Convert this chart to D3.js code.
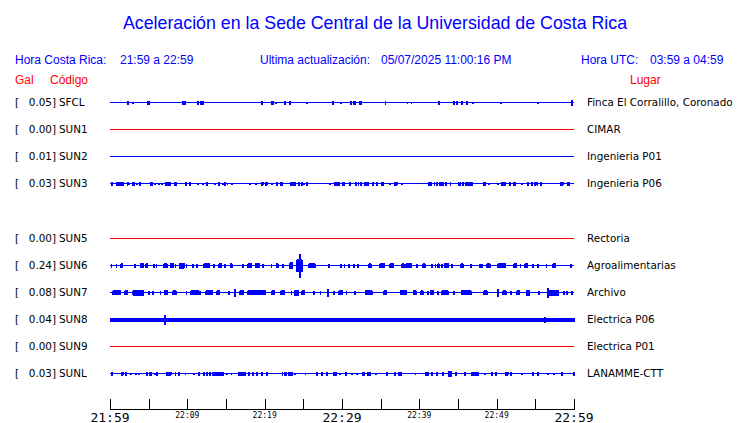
<!DOCTYPE html>
<html><head><meta charset="utf-8">
<script src="https://cdn.jsdelivr.net/npm/d3@7"></script>
<style>body{margin:0;background:#fff}svg{display:block}</style>
</head><body>
<svg id="c" width="740" height="423"></svg>
<script>
// ---------- data ----------
const titleText = "Aceleración en la Sede Central de la Universidad de Costa Rica";
const localRange = "21:59 a 22:59";
const utcRange = "03:59 a 04:59";
const updated = "05/07/2025 11:00:16 PM";

const stations = ["SFCL","SUN1","SUN2","SUN3","SUN5","SUN6","SUN7","SUN8","SUN9","SUNL"];
const rowSlots = [0,1,2,3,5,6,7,8,9,10];
const peaks = [0.05,0.00,0.01,0.03,0.00,0.24,0.08,0.04,0.00,0.03];
const places = ["Finca El Corralillo, Coronado","CIMAR","Ingenieria P01","Ingenieria P06",
  "Rectoria","Agroalimentarias","Archivo","Electrica P06","Electrica P01","LANAMME-CTT"];

const tickMinutes = [0,5,10,15,20,25,30,35,40,45,50,55,60];
const tickLabels = ["21:59","","22:09","","22:19","","22:29","","22:39","","22:49","","22:59"];

// bursts: [minute after 21:59, amplitude (relative), duration (min)]
const burstsSFCL = [[2.24,1.5,0.1],[2.88,1,0.1],[4.87,1.5,0.3],[9.35,1.5,0.1],[9.61,1.5,0.1],[11.29,1.5,0.1],
 [11.68,1.5,0.1],[11.93,1.5,0.1],[19.57,1.5,0.1],[20.91,1.5,0.25],[21.38,1,0.1],[22.5,1.5,0.25],[23.19,1.5,0.1],
 [25.39,0.8,0.1],[28.75,1.5,0.1],[29.78,1,0.1],[31.13,1.5,0.1],[31.51,1.5,0.25],[32.2,1.5,0.3],[35.57,1.5,0.1],
 [38.41,1,0.1],[38.93,1,0.1],[42.46,1.5,0.1],[44.45,1.5,0.1],[44.78,1.5,0.1],[45.39,1.5,0.25],[46.04,1.5,0.25],
 [46.85,0.8,0.1],[50.47,0.8,0.1],[55.26,1,0.1],[59.65,3,0.1]];
const burstsSUN1 = [];
const burstsSUN2 = [];
const burstsSUN3 = [[0.22,1.5,0.1],[0.9,1.5,0.35],[1.34,1.5,0.1],[1.59,1.5,0.2],[2.2,1.5,0.2],[2.46,1,0.1],
 [2.93,1.5,0.3],[3.45,1,0.1],[3.79,1.5,0.1],[5.26,1.5,0.25],[5.73,1,0.1],[6.25,1,0.1],[6.68,1,0.1],[7.24,1.5,0.45],
 [7.72,1.5,0.1],[8.28,1.5,0.3],[9.74,1.5,0.1],[10.26,1.5,0.1],[11.34,1,0.1],[11.98,1,0.1],[12.54,1.5,0.1],
 [13.49,1,0.1],[14.01,1.5,0.1],[14.53,1,0.1],[14.78,1.5,0.1],[15.13,1,0.1],[15.69,1,0.1],[18.02,1,0.1],
 [18.84,1,0.1],[19.61,1.5,0.2],[20.13,1.5,0.2],[20.86,1,0.1],[21.51,1.5,0.1],[22.11,1.5,0.25],[23.28,1.5,0.6],
 [23.92,1.5,0.1],[24.4,1.5,0.1],[24.74,1.5,0.1],[25.04,1,0.1],[25.39,1.5,0.1],[28.36,1,0.1],[29.0,1.5,0.1],
 [29.35,1.5,0.1],[29.61,1.5,0.1],[30.04,1.5,0.25],[30.95,1.5,0.1],[31.72,1.5,0.1],[32.07,1.5,0.1],[32.41,1.5,0.1],
 [32.89,1.5,0.25],[33.36,1.5,0.1],[33.97,1.5,0.1],[34.48,1.5,0.1],[35.09,1.5,0.25],[36.12,1,0.1],[36.81,1.5,0.4],
 [37.67,1,0.1],[41.16,1.5,0.1],[41.47,1.5,0.1],[41.9,1.5,0.1],[42.28,1.5,0.1],[42.59,1.5,0.1],[42.89,1.5,0.25],
 [43.41,1.5,0.1],[43.97,1.5,0.1],[45.0,1.5,0.3],[45.56,1.5,0.1],[45.99,1.5,0.35],[46.47,1.5,0.1],[46.81,1.5,0.1],
 [48.28,1.5,0.25],[48.92,1,0.1],[50.13,1,0.1],[50.65,1.5,0.45],[51.64,1.5,0.1],[52.16,1.5,0.3],[53.19,1,0.1],
 [53.97,1.5,0.1],[54.53,1.5,0.1],[54.91,1.5,0.2],[55.22,1.5,0.1],[55.65,1.5,0.1],[58.23,1.5,0.4],[59.14,1.5,0.3]];
const burstsSUN5 = [];
const burstsSUN6 = [[0.13,2,0.1],[0.78,2,0.1],[1.38,2,0.3],[3.19,2,0.1],[3.88,2,0.4],[4.61,2,0.3],[5.6,2,0.1],
 [5.95,2,0.1],[6.9,2,0.5],[7.76,2,0.4],[8.41,2,0.1],[9.05,2.5,0.6],[9.83,2,0.1],[10.69,2,0.1],[11.21,2,0.1],
 [12.1,2,0.8],[13.36,2,0.1],[14.01,2,0.4],[14.87,2,0.1],[15.52,2,0.3],[17.16,2,0.1],[17.84,2,0.5],[18.75,2,0.6],
 [19.74,2,0.1],[20.82,2,0.1],[21.47,2,0.3],[22.33,2,0.1],[23.19,3,0.4],[24.15,6,0.7],[24.45,12,0.12],
 [25.65,2,0.9],[28.28,2,0.1],[29.83,2,0.1],[30.26,2,0.1],[30.82,2,0.1],[31.47,2,0.1],[31.98,2,0.1],
 [33.4,2,0.35],[34.85,2,0.6],[36.2,2,0.5],[37.75,2,0.3],[38.2,2,0.8],[39.66,2,0.1],[40.4,2,0.35],[41.59,2,0.1],
 [42.03,2,0.1],[42.37,2,0.25],[42.89,2,0.1],[43.2,2,0.6],[44.18,2,0.1],[45.35,2,0.35],[46.68,2,0.1],
 [47.76,2,0.1],[48.06,2,0.1],[48.7,2,0.5],[50.15,2,1.0],[52.2,2,0.4],[53.02,2,0.1],[53.6,2,0.4],[54.66,2,0.1],
 [55.26,2,0.1],[56.38,2,0.1],[57.2,2,0.4],[59.57,2,0.1]];
const burstsSUN7 = [[0.35,2,1.0],[1.9,2,0.4],[2.89,1.5,0.1],[3.0,2.5,1.3],[4.96,1.5,0.1],[5.52,2,0.1],[6.47,2,0.1],
 [7.0,2,0.4],[8.05,2,0.5],[9.83,2,0.1],[10.45,2,1.1],[11.64,2,0.1],[12.4,2,0.9],[13.8,2,0.4],[15.3,2,0.1],
 [16.08,4,0.1],[16.8,2,0.4],[17.8,2,0.4],[18.25,2,1.9],[20.9,2,0.4],[22.1,2,0.4],[23.41,2,0.1],[23.9,2.5,0.5],
 [24.8,2,0.4],[26.29,2,0.1],[27.16,2,0.1],[28.15,4,0.12],[28.88,2,0.1],[29.6,2,0.4],[30.52,2,0.1],[31.68,2,0.1],
 [33.0,2,0.9],[35.35,2,0.4],[37.5,2,0.9],[39.2,2,0.45],[40.2,2,0.3],[41.03,2,0.1],[41.4,2,0.4],[42.33,2,0.1],
 [42.9,2,0.9],[44.4,2,0.1],[45.4,2,1.3],[48.35,2,0.45],[50.09,4,0.12],[50.8,2,0.45],[51.81,2,0.1],[52.6,2,0.4],
 [53.8,2.5,0.5],[55.39,2,0.1],[56.59,5,0.12],[56.7,2.5,1.3],[58.62,2,0.1],[59.05,2,0.1],[59.7,2,0.1]];
const burstsSUN8 = [[0,1.5,7.0],[7.03,4.5,0.1],[7.15,1.5,40.2],[47.4,1.5,8.7],[56.2,3,0.1],[56.35,1.5,3.65]];
const burstsSUN9 = [];
const burstsSUNL = [[0.22,1.5,0.1],[1.51,1.5,0.2],[2.03,1.5,0.1],[2.67,1,0.1],[3.32,1,0.1],[3.66,1,0.1],
 [4.74,1.5,0.1],[5.1,1.5,0.3],[5.73,1,0.1],[6.03,2,0.1],[7.3,1.5,0.6],[8.41,1.5,0.1],[8.92,1.5,0.1],[9.7,1,0.1],
 [10.78,1,0.1],[11.42,1.5,0.1],[12.07,1.5,0.1],[12.5,1.5,0.1],[12.93,1.5,0.1],[13.36,1.5,0.1],[13.2,1.5,1.5],
 [15.09,1,0.1],[15.65,1,0.1],[16.6,1.5,0.9],[17.89,1.5,0.1],[18.45,1.5,0.1],[19.0,1.5,0.1],[19.61,1.5,0.1],
 [20.26,1.5,0.1],[22.25,1.5,0.1],[22.55,1.5,0.1],[22.76,1.5,0.1],[23.1,1.5,0.5],[23.92,1,0.1],[25.22,1,0.1],
 [26.72,1.5,0.1],[27.37,1.5,0.1],[28.02,1.5,0.1],[28.9,1.5,0.35],[29.74,1,0.1],[30.47,1.5,0.1],[31.25,1,0.1],
 [31.9,1,0.1],[32.6,1.5,0.35],[33.35,1.5,0.35],[34.35,1,0.1],[35.78,1.5,0.1],[36.85,1.5,0.1],[37.35,1.5,0.35],
 [39.44,1,0.1],[40.8,1.5,0.35],[41.59,1.5,0.1],[42.24,1.5,0.1],[42.97,1.5,0.1],[43.8,2.5,0.4],[44.74,1.5,0.1],
 [45.82,1.5,0.1],[46.7,1.5,0.9],[48.49,1,0.1],[49.35,1.5,0.1],[49.87,1.5,0.1],[51.1,1.5,0.4],[51.85,1.5,0.1],
 [53.23,1,0.1],[54.66,1.5,0.1],[55.26,1.5,0.1],[56.59,1,0.1],[57.33,1,0.1],[58.41,1.5,0.1],[59.91,1.5,0.1]];
const allBursts = [burstsSFCL,burstsSUN1,burstsSUN2,burstsSUN3,burstsSUN5,burstsSUN6,burstsSUN7,burstsSUN8,burstsSUN9,burstsSUNL];

// ---------- drawing ----------
const svg = d3.select("#c");
const blue = "#0000ff", red = "#ff0000";
const x = d3.scaleLinear().domain([0,60]).range([110,574]);
const row = d3.scaleLinear().domain([0,10]).range([102,373]);
const amp = d3.scaleLinear().domain([-13.5,13.5]).range([13.5,-13.5]);

svg.append("text").attr("x",375).attr("y",29).attr("text-anchor","middle")
  .attr("font-family","Liberation Sans, Arial, sans-serif").attr("font-size",17.8).attr("fill",blue).text(titleText);

const hdr = (tx,xx,yy,col,anchor) => svg.append("text").attr("x",xx).attr("y",yy)
  .attr("text-anchor",anchor||"start").attr("font-family","Liberation Sans, Arial, sans-serif")
  .attr("font-size",12).attr("fill",col).text(tx);
hdr("Hora Costa Rica:",15,64,blue);
hdr(localRange,120,64,blue);
hdr("Ultima actualización:",260,64,blue);
hdr(updated,381,64,blue);
hdr("Hora UTC:",581,64,blue);
hdr(utcRange,650,64,blue);
hdr("Gal",15,84,red);
hdr("Código",50,84,red);
hdr("Lugar",630,84,red);

const line = d3.line().x(d=>x(d[0])).y(d=>amp(d[1]));
const stepMin = 0.1;

stations.forEach((s,i)=>{
  const g = svg.append("g").attr("transform",`translate(0,${Math.round(row(rowSlots[i]))+0.5})`);
  const bs = allBursts[i].slice().sort((a,b)=>a[0]-b[0]);
  const pts = [[0,0]];
  bs.forEach(b=>{
    const [t,a,dur] = b;
    pts.push([t,0]);
    const n = Math.max(1, Math.round(dur/stepMin));
    for(let k=0;k<=n;k++){
      const tt = t+dur*k/n, sgn = (k%2?-1:1);
      pts.push([tt,sgn*a]); pts.push([tt,-sgn*a]);
    }
    pts.push([t+dur,0]);
  });
  pts.push([60,0]);
  g.append("path").attr("d",line(pts)).attr("fill","none")
    .attr("stroke", peaks[i]===0?red:blue).attr("stroke-width",1).attr("shape-rendering","crispEdges");
  const ty = 3.5, fs = 10.4;
  g.append("text").attr("x",15).attr("y",ty).attr("font-family","DejaVu Sans, sans-serif").attr("font-size",fs).text("[");
  g.append("text").attr("x",56).attr("y",ty).attr("text-anchor","end").attr("font-family","DejaVu Sans, sans-serif")
    .attr("font-size",fs).text(peaks[i].toFixed(2)+"]");
  g.append("text").attr("x",59).attr("y",ty).attr("font-family","DejaVu Sans, sans-serif").attr("font-size",fs).text(s);
  g.append("text").attr("x",587).attr("y",ty).attr("font-family","DejaVu Sans, sans-serif").attr("font-size",fs).text(places[i]);
});

// time axis
const ax = svg.append("g").attr("transform","translate(0,409.5)");
ax.append("line").attr("x1",x(0)).attr("x2",x(60)).attr("stroke","#000").attr("shape-rendering","crispEdges");
tickMinutes.forEach((m,i)=>{
  const xx = Math.round(x(m))+0.5;
  ax.append("line").attr("x1",xx).attr("x2",xx).attr("y1",-11).attr("y2",0).attr("stroke","#000").attr("shape-rendering","crispEdges");
  const lab = tickLabels[i];
  if(lab){
    const big = (m%30===0);
    ax.append("text").attr("x",x(m)).attr("y",big?12:8.5).attr("text-anchor","middle")
      .attr("font-family","DejaVu Sans Mono, monospace").attr("font-size",big?13:8).text(lab);
  }
});
</script>
</body></html>
